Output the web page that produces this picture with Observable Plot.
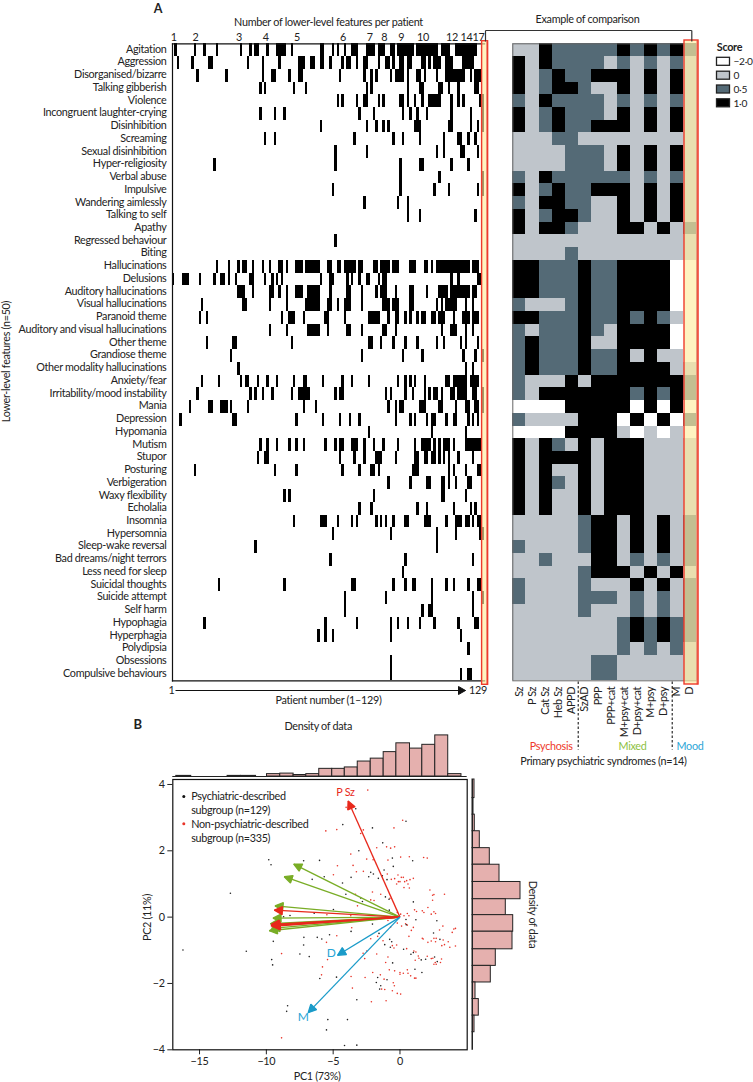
<!DOCTYPE html>
<html><head><meta charset="utf-8">
<script src="https://cdn.jsdelivr.net/npm/d3@7"></script>
<script src="https://cdn.jsdelivr.net/npm/@observablehq/plot@0.6"></script>
<style>html,body{margin:0;padding:0;background:#fff}#page{position:relative;width:753px;height:1082px;overflow:hidden}#page svg{position:absolute;overflow:visible;background:transparent}#page svg text{letter-spacing:-0.3px}</style>
</head><body><div id="page"></div>
<script>
const FONT = "Lato";
const FS = 10.8;
const featureLabels = ["Agitation","Aggression","Disorganised/bizarre","Talking gibberish","Violence","Incongruent laughter-crying","Disinhibition","Screaming","Sexual disinhibition","Hyper-religiosity","Verbal abuse","Impulsive","Wandering aimlessly","Talking to self","Apathy","Regressed behaviour","Biting","Hallucinations","Delusions","Auditory hallucinations","Visual hallucinations","Paranoid theme","Auditory and visual hallucinations","Other theme","Grandiose theme","Other modality hallucinations","Anxiety/fear","Irritability/mood instability","Mania","Depression","Hypomania","Mutism","Stupor","Posturing","Verbigeration","Waxy flexibility","Echolalia","Insomnia","Hypersomnia","Sleep-wake reversal","Bad dreams/night terrors","Less need for sleep","Suicidal thoughts","Suicide attempt","Self harm","Hypophagia","Hyperphagia","Polydipsia","Obsessions","Compulsive behaviours"];
const featurePatients = [
"2,10,14,19,29,33,35-36,40,44-47,50,62-63,67,69,72,75-77,81-84,86-88,91-92,94-100,102-110,112-115,118-126",
"3,9,16-17,32,38,45,53-55,58-59,62-63,66,71,73-74,77,80-81,86,89-90,92,95-96,98-99,104-105,107,109-111,114-116,121-125",
"11,23,38,42-43,49,53-54,70,80,83,85,91,93-96,98,102-103,105,110,114-121,124,126-128",
"37,39,51,56,81,83,98,103-104,111-112,115,119,126-127",
"69,71,77,80-81,86,88,95-96,98,101,104,107-111,116,119,121,128,129",
"37,43,47,78,84,96,99,102,106,116,124,129",
"62,81,85,88,90,101-103,115-116,124,127,129",
"39,43,76,92,96,103,113,119-120,123,126",
"68,81,110,113,120-121,127",
"18,68,95,103-104,116,123",
"95,111,129",
"67,95,109,115,127,129",
"80,94,98",
"98,103,126",
"",
"68",
"",
"19,24,28,30-31,34,38,41,45-46,48,52-54,56-61,65-66,69-70,72-76,78-79,84-85,87-90,92-94,99-101,105-106,108,110-123,125-127",
"1,5-7,12,18,21-22,24,27,33-34,39,42,44,46,62,66-67,73,75,78,81-82,86,88-89,116,119,127-128",
"28-30,34,41-42,45,48,52-54,57-61,66,73-74,79,85,87-89,93,99-100,106,111-114,116-123,125-126",
"13,30-31,41,48,56-61,65-66,69,72-74,79,88-90,92-94,99-100,110,112,114-118,122,125",
"12,15,46,49-51,55,64-65,72,82-86,90,93-94,97,99,102,104-105,108-109,111-113,117,121-123,125-127",
"41,48,57-61,65,73-74,79,88-89,93,112,116-118,122,125",
"15,26-27,50,82-83,87,92,97,102,110,113,120,122,127",
"25,79,96,104,121,126,129",
"28,122,125",
"13,20,29,31-32,36,40,44,51,55-56,63,71,75,82,94,97,99,101,105,114-115,117-122,124-127",
"11,33,35,38,42,50,53-57,68,70-71,89,91,97,100,105,107,109-110,112,116-117,119-122,125-126,129",
"8,16-17,21-23,25,32,55,60,90,93,95-96,103-105,111-112,118,122-123,126-127,129",
"4,26-27,52,63,70,74,78,93,99,101,106,108-109,114,117-118,123,125,127",
"82,108,122",
"37,40,44,49,52,55,64,68,70-71,75-77,80,84,88,94,101,104-107,109,111,113-115,117,122-128",
"36,39-40,70,76,80,85-87,93,101-102,105-106,108-109,111,113,115,119,125",
"10,43,52,71,78,83-84,86,100-102,115,117,122,127-128",
"90,99,106-107,112-113,115,118,123-124",
"47,49,84,112-113,122",
"78,83,102,106,117,124,126",
"51,62-64,69,75,77,85,87,89,92,97-98,105-107,114,118-120,122-123,125,127-128",
"67,91,110,118,128,129",
"35,110",
"66,97,125",
"96",
"20,47,75-76,92,97,100-101,108,114,117,123,127-128",
"72,89,108,125,129",
"72,104,107-108,125",
"14,64,77,91,94,98,103,109,119,126-127",
"61,64,67,91,120",
"123",
"91",
"91,120,123-124"];
const countTickPatients = [1,10,28,39,52,71,82,88,95,104,116,122,127];
const countTickLabels = ["1","2","3","4","5","6","7","8","9","10","12","14","17"];

const syndromeLabels = ["Sz","P Sz","Cat Sz","Heb Sz","APPD","SzAD","PPP","PPP+cat","M+psy+cat","D+psy+cat","M+psy","D+psy","M","D"];
const syndromeScores = [
"g g k s s s s s k s k s k s",
"k g k s s s s g s g s g s g",
"k g s k s s k k k g k g k g",
"k g s k k s g g k g k g k g",
"s g k s s s s g s g s g s g",
"k g s k s s s g k g k g k g",
"k g s k s s k k k g k g k g",
"g g g s s g g g g g g g g g",
"g g g g s s s g k g k g k g",
"g g g g s s s g k g k g k g",
"s g k s s s s s s g s g s g",
"k g s k s s k k k g k g k g",
"s g k k s s g g k g k g k g",
"k g s k k s g g k g k g k g",
"k g k k s g g g k k g k g s",
"g g g g g g g g g g g g g g",
"g g g g s g g g g g g g g g",
"k k s s s k s s k k k k w w",
"k k s s s k s s k k k k w w",
"k k s s s k s s k k k k w w",
"s g g g s k s s k k k k w w",
"k k s s s k s s k s k s g w",
"s g s s s k s g k k k k w w",
"s k s s s k g g k k k k w w",
"s k s s s k s s k g k g g w",
"s k s s s k s s k k k k g g",
"s g g g k g k k k k k k k s",
"s g k k k k k k k s k s k s",
"w w w w k k k k k w k w k w",
"s g g g g k k k w k w k w s",
"w w w w k k k k g w g w g w",
"k g k s g k g k k k g g g g",
"k g k k k k g k k k g g g g",
"k g k g g k g k k k g g g g",
"k g k s g k g k k k g g g g",
"k g k g g k g k k k g g g g",
"k g k g g k g k k k g g g g",
"g g g g g s k k g k g k g s",
"g g g g g s k k g k g k g s",
"s g g g g s k k g k g k g s",
"g g s g g g k k g s g s g s",
"g g g g g s k k k g k g k g",
"s g g g g s g g g k g k g s",
"s g g g g s s s g s g s g s",
"g g g g g s g g g s g s g s",
"g g g g g g g g s k s k s s",
"g g g g g g g g s k s k s s",
"g g g g g g g g s g s g s g",
"g g g g g g s s g g g g g g",
"g g g g g g s s g g g g g g"];
const scoreColours = {w:"#ffffff",g:"#bfc5cb",s:"#546a76",k:"#000000"};
const scoreLegendLabels = ["−2·0","0","0·5","1·0"];
const scoreLegendCodes = ["w","g","s","k"];

const blackX = [-3.31,-4.28,-2.06,-1.29,-3.08,-0.50,0.45,-0.57,0.95,-7.21,-6.02,-1.19,-2.19,-1.99,-2.34,-6.57,-5.67,-3.66,-1.32,-1.62,-0.97,-4.30,-4.05,-2.94,-1.09,-0.82,-2.81,1.00,-0.80,-4.98,-6.42,-8.23,-8.71,-9.82,-9.65,-12.69,0.45,1.19,2.76,-2.06,-3.66,-5.27,-7.19,-6.19,-5.85,-9.48,-7.21,-7.49,-6.79,-9.53,-9.60,-0.77,-0.62,-1.14,-0.72,0.27,-1.57,2.51,2.99,0.82,1.00,-0.55,1.12,1.64,1.92,1.59,2.59,2.79,-4.75,-6.00,-1.67,-1.77,-1.44,-1.52,-0.97,-3.23,-8.41,-8.48,-5.40,-3.93,-5.50,-4.15,-3.23,0.47,-16.24,-11.50];
const blackY = [3.27,2.79,2.69,2.24,2.00,1.53,2.89,1.78,1.70,1.70,1.71,1.42,1.35,1.30,1.22,1.14,1.22,1.20,1.25,1.17,1.13,1.03,0.69,0.58,0.61,0.54,0.47,0.46,0.21,0.23,0.12,0.05,0.01,1.73,1.58,0.72,-0.07,-0.08,-0.11,-0.21,-0.43,-0.53,-0.61,-0.61,-0.66,-0.73,-0.84,-1.11,-1.19,-1.44,-1.28,-0.67,-0.74,-0.83,-0.91,-0.97,-0.49,-0.48,-0.67,-1.12,-1.07,-1.38,-1.57,-1.67,-1.27,-1.29,-1.20,-1.34,-1.81,-1.85,-1.82,-1.97,-2.07,-2.17,-1.89,-2.49,-2.67,-2.84,-3.09,-3.09,-3.40,-3.87,-3.86,-0.23,-0.99,-1.03];
const redX = [-2.41,-4.03,-3.73,-5.55,-4.73,-2.74,-2.94,0.20,-0.45,-3.68,-1.74,-1.00,-0.70,-0.40,-2.49,-2.01,-0.90,0.05,0.70,1.77,2.04,-3.51,-4.68,-3.26,-2.74,-4.98,-0.95,-0.15,-0.40,-0.65,0.10,0.25,1.00,0.75,0.50,0.35,-0.12,0.00,-0.25,0.60,0.30,0.70,2.24,2.54,2.44,3.33,2.44,-2.06,-3.33,-2.19,-1.44,-0.75,-1.94,-3.18,-0.20,0.05,0.55,1.09,1.24,1.67,2.09,1.79,2.54,2.66,2.34,0.67,0.30,-5.47,-3.68,-0.90,-0.70,-0.20,0.12,0.42,0.55,1.00,0.85,0.67,-3.61,-4.73,-5.50,-8.86,-1.67,-1.27,-0.25,-0.57,-0.45,0.50,1.67,1.74,2.09,2.34,2.54,2.71,2.66,3.23,3.61,3.13,3.33,3.73,4.15,3.21,2.96,3.91,4.03,4.15,-2.19,-2.76,-2.49,-2.64,-1.74,-0.90,-1.07,-5.42,-5.80,-5.87,1.04,1.19,1.37,1.42,1.14,2.04,2.34,2.46,2.64,2.54,2.71,3.03,3.11,-0.80,-0.40,0,0,0.25,0.55,0.60,0.80,1.09,1.19,-2.04,-2.61,-3.66,-1.47,-1.19,-0.50,-0.42,-1.37,-1.14,-0.57,-0.20,0.05,-3.56,-2.14,-1.04,-8.86];
const redY = [3.83,3.31,3.31,2.60,2.64,2.63,2.52,2.92,2.69,1.90,2.09,2.12,2.08,2.12,1.75,1.73,1.72,1.81,1.82,1.80,1.78,1.56,1.55,1.37,1.38,1.28,1.30,1.27,1.16,1.14,1.20,1.20,1.17,1.13,1.10,1.07,1.07,1.07,1.00,1.00,0.89,0.88,0.82,0.68,0.66,0.69,0.51,0.76,0.69,0.52,0.69,0.57,0.50,0.34,0.14,0.09,0.11,0.22,0.17,0.19,0.29,0.14,0.16,0.11,0.09,0.04,0.04,0.07,0.04,-0.10,-0.30,-0.18,-0.27,-0.20,-0.24,-0.31,-0.40,-0.58,-0.32,-0.56,-0.76,-1.10,-0.58,-0.71,-0.84,-0.86,-0.93,-0.95,-0.64,-0.66,-0.76,-0.72,-0.64,-0.64,-0.74,-0.69,-0.74,-0.86,-0.83,-0.91,-0.87,-0.27,-0.39,-0.46,-0.36,-0.34,-0.65,-1.09,-1.02,-1.25,-1.11,-1.20,-1.37,-1.28,-1.50,-1.74,-1.02,-1.05,-1.17,-1.24,-1.30,-1.18,-1.25,-1.24,-1.37,-1.42,-1.42,-1.37,-1.26,-1.59,-1.62,-1.67,-1.72,-1.69,-1.59,-1.69,-1.77,-1.84,-1.84,-1.67,-1.82,-1.79,-1.74,-1.87,-1.98,-2.07,-2.17,-2.18,-2.22,-2.30,-2.32,-2.14,-2.55,-2.52,-3.64];

const greenArrowX = [-7.95,-8.66,-9.35,-9.5,-9.7,-9.78,-9.6];
const greenArrowY = [1.6,1.22,0.34,-0.03,-0.2,-0.41,-0.34];
const redArrowX = [-3.88,-9.4,-9.65,-9.6,-9.55,-9.62];
const redArrowY = [3.5,0.21,-0.26,-0.24,-0.28,-0.22];
const blueArrowX = [-4.67,-6.87];
const blueArrowY = [-1.15,-2.88];

const topHistLeft  = [-16.74,-12.9,-11.9,-9.95,-8.96,-7.96,-7.01,-6.04,-5.07,-4.13,-3.16,-2.19,-1.22,-0.27,0.75,1.67,2.64,3.61];
const topHistRight = [-15.62,-11.9,-10.77,-8.96,-7.96,-7.01,-6.04,-5.07,-4.13,-3.16,-2.19,-1.22,-0.27,0.75,1.67,2.64,3.61,4.6];
const topHistDensity = [0.7,0.7,0.7,2.7,3.3,1.7,2.7,8.7,8.7,10.3,17,20.3,27.7,37.7,31.7,36,46.7,2.7];
const rightHistEdges = [4.15,3.59,3.09,2.59,2.08,1.58,1.06,0.54,0.06,-0.44,-0.97,-1.47,-1.97,-2.47,-2.97,-3.47,-4];
const rightHistDensity = [2,1,2.3,7.3,17.3,27,48,33.3,40.7,40,23.3,18.3,3,6.3,2,0.3];

// ---------- derived tables
const patients = d3.range(1,130);
const parseRuns = s => s ? s.split(",").flatMap(r => { const [a,b] = r.split("-").map(Number); return b ? d3.range(a,b+1) : [a]; }) : [];
const featureCells = featureLabels.flatMap((f,i) => parseRuns(featurePatients[i]).map(p => ({patient:p, feature:f})));
const syndromeCells = featureLabels.flatMap((f,i) => { const row = syndromeScores[i].split(" "); return syndromeLabels.map((s,j) => ({syndrome:s, feature:f, score:row[j]})); });
const blackPts = blackX.map((x,i)=>({x,y:blackY[i]}));
const redPts = redX.map((x,i)=>({x,y:redY[i]}));
const toArrows = (X,Y) => X.map((x,i)=>({x0:0,y0:0,x,y:Y[i]}));

const page = document.getElementById("page");
const style = {fontFamily:FONT, fontSize:"11px", background:"transparent", color:"#222"};
function put(svg,left,top){ svg.style.left=left+"px"; svg.style.top=top+"px"; page.appendChild(svg); }
const triHead = (len,half) => color => {
  const m = document.createElementNS("http://www.w3.org/2000/svg","marker");
  m.setAttribute("viewBox",`${-len-1} ${-half-1} ${len+2} ${2*half+2}`);
  m.setAttribute("markerUnits","userSpaceOnUse");
  m.setAttribute("markerWidth",len+2); m.setAttribute("markerHeight",2*half+2);
  m.setAttribute("refX",0); m.setAttribute("refY",0); m.setAttribute("orient","auto");
  const p = document.createElementNS("http://www.w3.org/2000/svg","path");
  p.setAttribute("d",`M0,0L${-len},${-half}L${-len},${half}Z`); p.setAttribute("fill",color);
  m.appendChild(p); return m;
};

// ---------- A, left: patients × features
const top0=43.3, bot0=680.3;
put(Plot.plot({
  width:490, height:700, marginLeft:172, marginRight:490-484.1, marginTop:top0, marginBottom:700-bot0, style,
  x:{type:"band",domain:patients,padding:0,round:false,axis:null},
  y:{type:"band",domain:featureLabels,padding:0,round:false,axis:null},
  marks:[
    Plot.cell(featureCells,{x:"patient",y:"feature",fill:"#000",shapeRendering:"crispEdges"}),
    Plot.axisY(featureLabels,{anchor:"left",tickSize:0,tickPadding:6,label:null,fontSize:FS,dy:-1,fill:"#222"}),
    Plot.axisX(countTickPatients,{anchor:"top",tickSize:0,tickPadding:3,label:null,tickFormat:d=>countTickLabels[countTickPatients.indexOf(d)],fontSize:FS,fill:"#222"}),
    Plot.frame({anchor:"left",stroke:"#111",strokeWidth:1.2}),
    Plot.frame({anchor:"top",stroke:"#111",strokeWidth:1.2}),
    Plot.frame({anchor:"bottom",stroke:"#111",strokeWidth:1.2})
  ]
}),0,0);

// ---------- A, right: syndromes × features
put(Plot.plot({
  width:210, height:760, marginLeft:12.3, marginRight:14, marginTop:top0, marginBottom:760-bot0, style,
  x:{type:"band",domain:syndromeLabels,padding:0,round:false,axis:null},
  y:{type:"band",domain:featureLabels,padding:0,round:false,axis:null},
  color:{type:"identity"},
  marks:[
    Plot.cell(syndromeCells,{x:"syndrome",y:"feature",fill:d=>scoreColours[d.score],shapeRendering:"crispEdges"}),
    Plot.axisX(syndromeLabels,{anchor:"bottom",tickSize:0,tickPadding:6,tickRotate:-90,label:null,fontSize:FS,fill:"#222"}),
    Plot.frame({stroke:"#666",strokeWidth:1})
  ]
}),500,0);

// ---------- B: PCA biplot
const xDom=[-17,5.03], yDom=[-4,4.15];
const pcaW=340, pcaH=322;
put(Plot.plot({
  width:pcaW, height:pcaH, marginLeft:42.3, marginRight:pcaW-336.7, marginTop:19, marginBottom:32.7, style,
  x:{domain:xDom,axis:null},
  y:{domain:yDom,axis:null},
  marks:[
    Plot.axisX([-15,-10,-5,0],{anchor:"bottom",tickSize:5,tickPadding:3,label:null,fontSize:FS,fill:"#222"}),
    Plot.axisY([-4,-2,0,2,4],{anchor:"left",tickSize:5,tickPadding:3,label:null,fontSize:FS,fill:"#222"}),
    Plot.dot(redPts,{x:"x",y:"y",r:0.8,fill:"#e8352a"}),
    Plot.dot(blackPts,{x:"x",y:"y",r:0.8,fill:"#222"}),
    Plot.link(toArrows(greenArrowX,greenArrowY),{x1:"x0",y1:"y0",x2:"x",y2:"y",stroke:"#79ad26",strokeWidth:1.3,markerEnd:triHead(8,4)}),
    Plot.link(toArrows(redArrowX,redArrowY),{x1:"x0",y1:"y0",x2:"x",y2:"y",stroke:"#e8291c",strokeWidth:1.3,markerEnd:triHead(8,4)}),
    Plot.link(toArrows(blueArrowX,blueArrowY),{x1:"x0",y1:"y0",x2:"x",y2:"y",stroke:"#1a9bc9",strokeWidth:1.3,markerEnd:triHead(8,4)}),
    Plot.frame({stroke:"#111",strokeWidth:1.2})
  ]
}),130,760);

// top density histogram
put(Plot.plot({
  width:pcaW, height:56, marginLeft:42.3, marginRight:pcaW-336.7, marginTop:6, marginBottom:6, style,
  x:{domain:xDom,axis:null}, y:{domain:[0,50],axis:null},
  marks:[
    Plot.rectY(topHistDensity.map((v,i)=>({x1:topHistLeft[i],x2:topHistRight[i],v})),{x1:"x1",x2:"x2",y1:0,y2:"v",fill:"#e5b0ae",stroke:"#222",strokeWidth:1}),
    Plot.ruleY([0],{stroke:"#222",strokeWidth:1})
  ]
}),130,726);

// right density histogram
put(Plot.plot({
  width:60, height:pcaH, marginLeft:2, marginRight:8, marginTop:19, marginBottom:32.7, style,
  x:{domain:[0,50],axis:null}, y:{domain:yDom,axis:null},
  marks:[
    Plot.rectX(rightHistDensity.map((v,i)=>({y1:rightHistEdges[i],y2:rightHistEdges[i+1],v})),{y1:"y1",y2:"y2",x1:0,x2:"v",fill:"#e5b0ae",stroke:"#222",strokeWidth:1}),
    Plot.ruleX([0],{stroke:"#222",strokeWidth:1})
  ]
}),470,760);

// ---------- annotation layer (page coordinates)
const T=(s,x,y,o={})=>Plot.text([s],{x:[x],y:[y],text:[s],fontSize:FS,fill:"#222",lineAnchor:"middle",textAnchor:"middle",...o});
const L=(x1,y1,x2,y2,o={})=>Plot.link([0],{x1:[x1],y1:[y1],x2:[x2],y2:[y2],stroke:"#333",strokeWidth:1.2,...o});
const BOX=(x1,y1,x2,y2,o={})=>Plot.rect([0],{x1:[x1],y1:[y1],x2:[x2],y2:[y2],...o});
const yellow={fill:"#ffeda0",fillOpacity:0.65};
const redLine={fill:"none",stroke:"#ee3b2b",strokeWidth:1.4};
const salmon={stroke:"#f1907a",strokeWidth:2};
const legendRows=[61.3,75.2,89,102.8];
put(Plot.plot({
  width:753,height:1082,margin:0,style,
  x:{domain:[0,753],range:[0,753],axis:null},y:{domain:[0,1082],range:[0,1082],axis:null},
  marks:[
    BOX(481.6,40.7,487.6,684.3,yellow), BOX(684,40,698,684,yellow),
    L(486.6,41,486.6,684,salmon), L(696.8,40,696.8,684,salmon),
    BOX(481.6,40.7,487.6,684.3,redLine), BOX(684,40,698,684,redLine),
    L(485,41,485,30), L(485,30,691.3,30), L(691.3,30,691.3,41),
    L(175,690,465,690,{stroke:"#111",strokeWidth:1,markerEnd:triHead(7,4)}),
    L(577.7,681,577.7,749,{stroke:"#000",strokeWidth:1,strokeDasharray:"2.5,2"}),
    L(671.7,681,671.7,749,{stroke:"#000",strokeWidth:1,strokeDasharray:"2.5,2"}),
    T("A",157.5,8,{fontSize:12.5,fontWeight:"bold"}),
    T("B",137,724.5,{fontSize:13,fontWeight:"bold"}),
    T("Number of lower-level features per patient",328,22),
    T("Example of comparison",587,19),
    T("Lower-level features (n=50)",6,361,{rotate:-90}),
    T("1",171,690), T("129",477.5,690),
    T("Patient number (1–129)",328,700),
    T("Psychosis",550.7,745.7,{fill:"#ee3b2b"}),
    T("Mixed",632,745.7,{fill:"#8cbf3f"}),
    T("Mood",689.5,745.7,{fill:"#2aa5d6"}),
    T("Primary psychiatric syndromes (n=14)",603,760.7),
    T("Score",716.3,47.5,{fontWeight:"bold",textAnchor:"start"}),
    ...scoreLegendCodes.flatMap((c,i)=>[
      BOX(716.5,legendRows[i]-4,729.5,legendRows[i]+4,{fill:scoreColours[c],stroke:"#222",strokeWidth:1.3}),
      T(scoreLegendLabels[i],733,legendRows[i],{textAnchor:"start",fontSize:10.2})
    ]),
    T("Density of data",317.7,726),
    T("Density of data",532,914,{rotate:90}),
    T("PC1 (73%)",316.7,1076),
    T("PC2 (11%)",146.7,917,{rotate:-90}),
    T("Psychiatric-described",190.7,795.7,{textAnchor:"start"}),
    T("subgroup (n=129)",190.7,809.7,{textAnchor:"start"}),
    T("Non-psychiatric-described",190.7,823.7,{textAnchor:"start"}),
    T("subgroup (n=335)",190.7,837.7,{textAnchor:"start"}),
    Plot.dot([0],{x:[183.3],y:[796],r:1.5,fill:"#111"}),
    Plot.dot([0],{x:[183.3],y:[823.3],r:1.5,fill:"#e8352a"}),
    T("P Sz",345,792,{fill:"#e8291c"}),
    T("D",330.7,952.7,{fill:"#2aa5d6",fontSize:12}),
    T("M",302.7,1016.7,{fill:"#2aa5d6",fontSize:12})
  ]
}),0,0);
</script></body></html>
